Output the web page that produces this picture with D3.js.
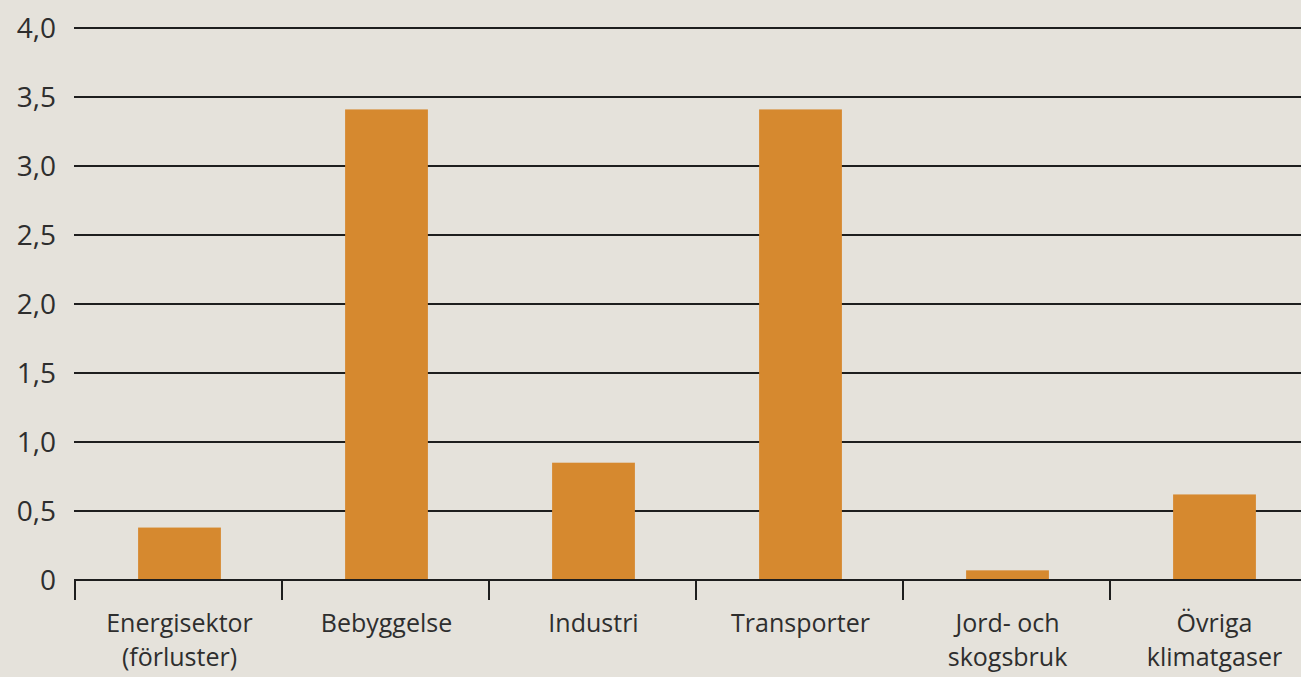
<!DOCTYPE html>
<html><head><meta charset="utf-8">
<script src="https://cdn.jsdelivr.net/npm/d3@7"></script>
<style>
html,body{margin:0;padding:0;background:#e5e2db;}
svg{display:block;}
text{font-family:"Open Sans",sans-serif;fill:#2e2e2e;}
</style></head>
<body><svg id="c" width="1301" height="677"></svg>
<script>
const categories = [["Energisektor","(förluster)"],["Bebyggelse"],["Industri"],["Transporter"],["Jord- och","skogsbruk"],["Övriga","klimatgaser"]];
const values = [0.38, 3.41, 0.85, 3.41, 0.07, 0.62];
const yTicks = [0, 0.5, 1.0, 1.5, 2.0, 2.5, 3.0, 3.5, 4.0];
const yTickLabels = ["0","0,5","1,0","1,5","2,0","2,5","3,0","3,5","4,0"];

const svg = d3.select("#c");
const W = 1301, H = 677;
svg.append("rect").attr("width",W).attr("height",H).attr("fill","#e5e2db");

const keys = categories.map(c=>c.join(" "));
const x = d3.scaleBand().domain(keys).range([76, 76+6*207]).paddingInner(0.6).paddingOuter(0.3);
const y = d3.scaleLinear().domain([0,4]).range([580,28]);

// gridlines
svg.append("g").selectAll("line").data(yTicks.filter(d=>d>0)).join("line")
  .attr("x1",74).attr("x2",W).attr("y1",d=>y(d)).attr("y2",d=>y(d))
  .attr("stroke","#1e1e1e").attr("stroke-width",2);

// y labels
svg.append("g").selectAll("text").data(yTicks).join("text")
  .attr("x",56).attr("y",d=>y(d)).attr("dy","0.36em").attr("text-anchor","end")
  .attr("font-size",28).text((d,i)=>yTickLabels[i]);

// bars
svg.append("g").selectAll("rect").data(values).join("rect")
  .attr("x",(d,i)=>x(keys[i])).attr("width",x.bandwidth())
  .attr("y",d=>y(d)).attr("height",d=>y(0)-y(d))
  .attr("fill","#d6892f");

// x axis line & ticks
svg.append("line").attr("x1",74).attr("x2",W).attr("y1",y(0)).attr("y2",y(0))
  .attr("stroke","#1e1e1e").attr("stroke-width",2);
const step = x.step();
const bounds = d3.range(keys.length+1).map(i=> i<keys.length ? x(keys[i]) - (step - x.bandwidth())/2 : x(keys[keys.length-1]) + x.bandwidth() + (step - x.bandwidth())/2);
svg.append("g").selectAll("line").data(bounds).join("line")
  .attr("x1",d=>d-1).attr("x2",d=>d-1).attr("y1",y(0)).attr("y2",y(0)+20)
  .attr("stroke","#1e1e1e").attr("stroke-width",2);

// category labels
const lab = svg.append("g").selectAll("text").data(categories).join("text")
  .attr("text-anchor","middle").attr("font-size",25)
  .attr("transform",(d,i)=>`translate(${x(keys[i])+x.bandwidth()/2},0)`);
lab.selectAll("tspan").data(d=>d).join("tspan")
  .attr("x",0).attr("y",(d,i)=>632+i*34).text(d=>d);
</script></body></html>
